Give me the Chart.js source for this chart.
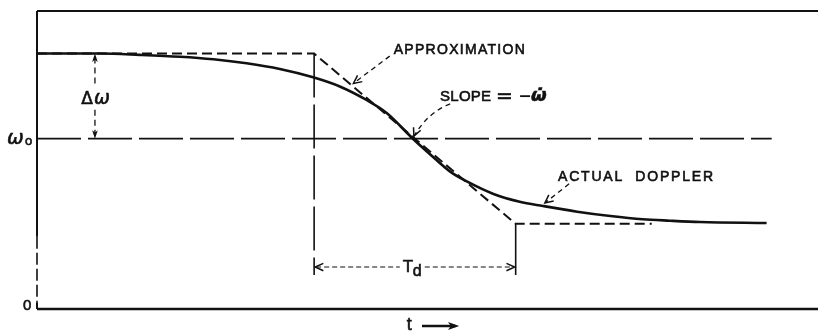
<!DOCTYPE html>
<html>
<head>
<meta charset="utf-8">
<script src="https://cdn.jsdelivr.net/npm/chart.js@4"></script>
<style>
  html, body { margin: 0; padding: 0; background: #fff; }
  #c { display: block; }
</style>
</head>
<body>
<canvas id="c" width="818" height="334"></canvas>
<script>
// Time runs in units of Td/2, frequency in units of Δω (ω0 = 2Δω).
const curveT = [0, 0.63, 1.02, 1.42, 1.75, 2.08, 2.41, 2.74, 3.01, 3.27, 3.47, 3.73, 3.90, 4.10, 4.27, 4.53, 4.79, 5.02, 5.36, 5.69, 6.01, 6.28, 6.58, 7.24];
const curveW = [3.0, 3.0, 2.985, 2.963, 2.933, 2.886, 2.819, 2.721, 2.611, 2.455, 2.302, 2.0, 1.818, 1.613, 1.495, 1.351, 1.260, 1.210, 1.143, 1.092, 1.054, 1.037, 1.022, 1.01];

const approxT = [0, 2.75, 4.75, 6.10];
const approxW = [3, 3, 1, 1];

const omega0 = 2;
const upperW = 3;
const lowerW = 1;
const tStart = 2.75;      // start of the Doppler transition
const tEnd = 4.75;        // end of the Doppler transition
const tMax = 7.75;
const wMax = 3.5;
const omegaLineEnd = 7.29;
const markerBottom = 0.40; // foot of the Td marker lines

const axisLabels = ['ω', 'o', '0'];
const noteLabels = ['APPROXIMATION', 'SLOPE', '=', '−', 'ω̇', 'ACTUAL  DOPPLER', 'Δ', 'ω', 'T', 'd', 't'];

const INK = '#111';
const pts = (xs, ys) => xs.map((v, i) => ({ x: v, y: ys[i] }));

function seg(data, width, dash) {
  return {
    data, borderColor: INK, borderWidth: width, borderDash: dash || [],
    pointRadius: 0, tension: 0, clip: false, fill: false, borderCapStyle: 'butt'
  };
}

const datasets = [
  // frame
  seg(pts([0, tMax], [wMax, wMax]), 2),
  seg(pts([0, tMax], [0, 0]), 2.5),
  seg(pts([0, 0], [wMax, 0.85]), 2),
  seg(pts([0, 0], [0.85, 0.07]), 1.6, [12, 4]),
  seg(pts([0, 0], [0.07, 0]), 2),
  // ω0 reference
  seg(pts([0, omegaLineEnd], [omega0, omega0]), 1.8, [44, 7]),
  // Td marker lines
  seg(pts([tStart, tStart], [upperW, markerBottom]), 1.6, [44, 7]),
  seg(pts([tEnd, tEnd], [lowerW, markerBottom]), 1.6),
  // straight-line approximation
  seg(pts(approxT, approxW), 2, [10, 5]),
  // actual Doppler curve
  Object.assign(seg(pts(curveT, curveW), 2.6), { cubicInterpolationMode: 'monotone' })
];

function arrowOpen(ctx, x, y, ang, len, spread) {
  ctx.beginPath();
  ctx.moveTo(x - len * Math.cos(ang - spread), y - len * Math.sin(ang - spread));
  ctx.lineTo(x, y);
  ctx.lineTo(x - len * Math.cos(ang + spread), y - len * Math.sin(ang + spread));
  ctx.stroke();
}
function arrowFilled(ctx, x, y, ang, len, spread) {
  ctx.beginPath();
  ctx.moveTo(x, y);
  ctx.lineTo(x - len * Math.cos(ang - spread), y - len * Math.sin(ang - spread));
  ctx.lineTo(x - len * 0.7 * Math.cos(ang), y - len * 0.7 * Math.sin(ang));
  ctx.lineTo(x - len * Math.cos(ang + spread), y - len * Math.sin(ang + spread));
  ctx.closePath();
  ctx.fill();
}
// heavy lettering: filled glyphs with a thin outline
function ink(ctx, text, x, y, spacing) {
  ctx.letterSpacing = (spacing || 0) + 'px';
  ctx.lineWidth = 0.6;
  ctx.fillText(text, x, y);
  ctx.strokeText(text, x, y);
  ctx.letterSpacing = '0px';
}
function inkFit(ctx, text, x, y, width) {
  ctx.letterSpacing = '0px';
  const n = [...text].length;
  const w = ctx.measureText(text).width;
  ink(ctx, text, x, y, n > 1 ? (width - w) / (n - 1) : 0);
}

const notes = {
  id: 'notes',
  afterDatasetsDraw(chart) {
    const { ctx, scales: { x, y } } = chart;
    const px = v => x.getPixelForValue(v);
    const py = v => y.getPixelForValue(v);
    ctx.save();
    ctx.fillStyle = INK;
    ctx.strokeStyle = INK;
    ctx.textBaseline = 'alphabetic';
    ctx.textAlign = 'left';

    // axis labels
    ctx.font = 'italic 20px "DejaVu Sans"';
    ink(ctx, axisLabels[0], px(0) - 30, py(omega0) + 5);
    ctx.font = '13px "Liberation Sans"';
    ink(ctx, axisLabels[1], px(0) - 12, py(omega0) + 6);
    ctx.font = '15px "Liberation Sans"';
    ink(ctx, axisLabels[2], px(0) - 14, py(0) + 1);

    // curve annotations
    ctx.font = '14px "Liberation Sans"';
    inkFit(ctx, noteLabels[0], px(3.54), py(3.0), 131);
    const sy = py(2.44);
    ctx.font = '15px "Liberation Sans"';
    inkFit(ctx, noteLabels[1], px(4.0), sy, 51);
    ctx.font = '20px "DejaVu Sans"';
    ink(ctx, noteLabels[2], px(4.0) + 56, sy + 1);
    ctx.font = '15px "Liberation Sans"';
    ctx.fillRect(px(4.0) + 80, sy - 6, 10, 1.8);
    ctx.font = 'italic bold 18px "DejaVu Sans"';
    ink(ctx, noteLabels[4], px(4.0) + 91, sy);
    ctx.font = '14px "Liberation Sans"';
    inkFit(ctx, noteLabels[5], px(5.17), py(1.50), 155);

    // leader lines
    ctx.lineWidth = 1.3;
    ctx.setLineDash([5, 4]);
    ctx.beginPath();
    ctx.moveTo(px(3.50), py(2.97));
    ctx.lineTo(px(3.14), py(2.65));
    ctx.stroke();
    ctx.beginPath();
    ctx.moveTo(px(4.10), py(2.41));
    ctx.quadraticCurveTo(px(3.88), py(2.31), px(3.74), py(2.03));
    ctx.stroke();
    ctx.beginPath();
    ctx.moveTo(px(5.28), py(1.47));
    ctx.lineTo(px(5.04), py(1.245));
    ctx.stroke();
    ctx.setLineDash([]);
    ctx.lineWidth = 1.5;
    arrowOpen(ctx, px(3.14), py(2.65), Math.atan2(py(2.65) - py(2.97), px(3.14) - px(3.50)), 9, 0.45);
    arrowOpen(ctx, px(3.74), py(2.03), Math.atan2(py(2.03) - py(2.25), px(3.74) - px(3.82)), 9, 0.45);
    arrowOpen(ctx, px(5.04), py(1.245), Math.atan2(py(1.245) - py(1.47), px(5.04) - px(5.28)), 9, 0.45);

    // Δω span
    const dx = px(0.575);
    const lblY = py(2.48);
    ctx.textAlign = 'center';
    ctx.font = '17px "DejaVu Sans"';
    ink(ctx, noteLabels[6], dx - 8, lblY + 6);
    ctx.font = 'italic 19px "DejaVu Sans"';
    ink(ctx, noteLabels[7], dx + 7, lblY + 6);
    ctx.lineWidth = 1.3;
    ctx.setLineDash([6, 4]);
    ctx.beginPath();
    ctx.moveTo(dx, py(upperW) + 4); ctx.lineTo(dx, lblY - 13);
    ctx.moveTo(dx, lblY + 12); ctx.lineTo(dx, py(omega0) - 4);
    ctx.stroke();
    ctx.setLineDash([]);
    arrowFilled(ctx, dx, py(upperW), -Math.PI / 2, 9, 0.32);
    arrowFilled(ctx, dx, py(omega0), Math.PI / 2, 9, 0.32);

    // Td span
    const ty = py(0.493);
    ctx.textAlign = 'left';
    ctx.font = '17px "Liberation Sans"';
    ink(ctx, noteLabels[8], px(3.63), ty + 5);
    ctx.font = '16px "Liberation Sans"';
    ink(ctx, noteLabels[9], px(3.63) + 10, ty + 9);
    ctx.lineWidth = 1.2;
    ctx.setLineDash([5, 3]);
    ctx.beginPath();
    ctx.moveTo(px(tStart) + 2, ty); ctx.lineTo(px(3.63) - 3, ty);
    ctx.moveTo(px(3.63) + 22, ty); ctx.lineTo(px(tEnd) - 2, ty);
    ctx.stroke();
    ctx.setLineDash([]);
    ctx.lineWidth = 1.5;
    arrowOpen(ctx, px(tStart) + 1, ty, Math.PI, 9, 0.42);
    arrowOpen(ctx, px(tEnd) - 1, ty, 0, 9, 0.42);

    // time axis label
    ctx.font = '18px "Liberation Sans"';
    ink(ctx, noteLabels[10], px(3.67), py(0) + 21);
    const ay = py(0) + 17;
    ctx.lineWidth = 2.6;
    ctx.beginPath();
    ctx.moveTo(px(3.82), ay); ctx.lineTo(px(4.15), ay);
    ctx.stroke();
    arrowFilled(ctx, px(4.19), ay, 0, 12, 0.35);

    ctx.restore();
  }
};

new Chart(document.getElementById('c'), {
  type: 'line',
  data: { datasets },
  options: {
    responsive: false,
    devicePixelRatio: 1,
    animation: false,
    layout: { padding: { left: 37, right: 0, top: 11, bottom: 25 } },
    plugins: { legend: { display: false }, tooltip: { enabled: false } },
    scales: {
      x: { type: 'linear', min: 0, max: tMax, display: false },
      y: { type: 'linear', min: 0, max: wMax, display: false }
    }
  },
  plugins: [notes]
});
</script>
</body>
</html>
